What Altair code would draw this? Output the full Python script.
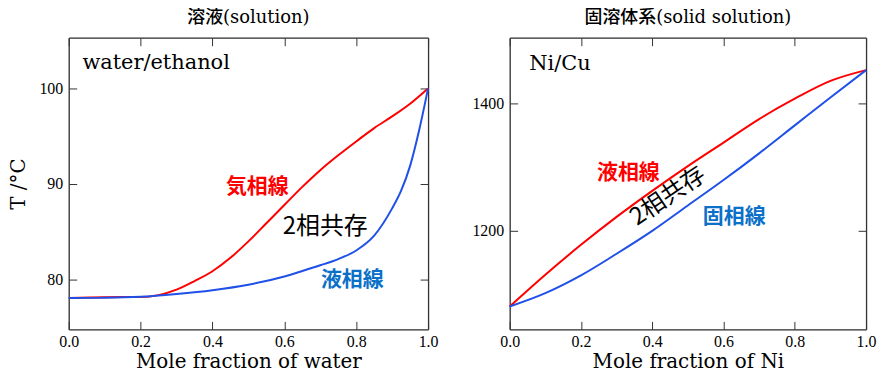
import altair as alt
import pandas as pd

# ---------------- data : left panel (water / ethanol) ----------------
we_vap_x = [0.0, 0.1, 0.2, 0.25, 0.3, 0.35, 0.4, 0.45, 0.5, 0.55, 0.6, 0.65,
            0.7, 0.75, 0.8, 0.85, 0.9, 0.95, 1.0]
we_vap_T = [78.08, 78.17, 78.18, 78.38, 78.95, 79.85, 80.88, 82.28, 84.0, 85.9,
            87.8, 89.7, 91.45, 93.0, 94.45, 95.85, 97.07, 98.4, 100.0]
we_liq_x = [0.0, 0.1, 0.2, 0.3, 0.4, 0.5, 0.6, 0.65, 0.7, 0.75, 0.8, 0.85,
            0.9, 0.925, 0.95, 0.975, 1.0]
we_liq_T = [78.08, 78.1, 78.2, 78.5, 78.9, 79.47, 80.33, 80.9, 81.5, 82.15,
            83.05, 84.6, 87.45, 89.3, 91.9, 95.6, 100.0]

# ---------------- data : right panel (Ni / Cu) ----------------
ni_x = [0.0, 0.1, 0.2, 0.3, 0.4, 0.5, 0.6, 0.7, 0.8, 0.9, 1.0]
ni_liq_T = [1081, 1131, 1178, 1222, 1263, 1302, 1339, 1376, 1408, 1436, 1453]
ni_sol_T = [1081, 1102, 1130, 1164, 1200, 1240, 1280, 1322, 1366, 1410, 1453]

# ---------------- labels ----------------
x_ticks = [0.0, 0.2, 0.4, 0.6, 0.8, 1.0]
left_y_ticks = [80, 90, 100]
right_y_ticks = [1200, 1400]
left_title = "溶液(solution)"
right_title = "固溶体系(solid solution)"
left_xtitle = "Mole fraction of water"
right_xtitle = "Mole fraction of Ni"
left_ytitle = "T /°C"

left_system = {"label": ["water/ethanol"], "x": [0.038], "T": [102.06]}
left_vap_lbl = {"label": ["気相線"], "x": [0.5246], "T": [89.66]}
left_two_lbl = {"label": ["2相共存"], "x": [0.714], "T": [85.45]}
left_liq_lbl = {"label": ["液相線"], "x": [0.789], "T": [79.98]}

right_system = {"label": ["Ni/Cu"], "x": [0.055], "T": [1453.3]}
right_liq_lbl = {"label": ["液相線"], "x": [0.333], "T": [1291]}
right_sol_lbl = {"label": ["固相線"], "x": [0.63], "T": [1222]}
right_two_lbl = {"label": ["2相共存"], "x": [0.445], "T": [1254]}

RED = "#ff0000"
BLUE_LINE = "#1f50e8"
BLUE_TEXT = "#0a70c8"
SERIF = "DejaVu Serif"
TICKF = "Liberation Serif"
CJK = "Noto Sans CJK JP"
FRAME = "#333333"
INWARD = alt.ExprRef(expr="-8")


def lines_df(x1, t1, x2, t2, n1, n2):
    a = pd.DataFrame({"x": x1, "T": t1, "series": n1})
    b = pd.DataFrame({"x": x2, "T": t2, "series": n2})
    return pd.concat([a, b], ignore_index=True)


def panel(df, names, ydom, yticks, ytitle, xtitle, title, title_offset,
          texts, w, h):
    xs = alt.Scale(domain=[0, 1], nice=False, zero=False)
    ys = alt.Scale(domain=ydom, nice=False, zero=False)
    x_axis = alt.Axis(orient="bottom", values=x_ticks, format=".1f",
                      title=xtitle, titleFont=SERIF, titleFontSize=20,
                      titleFontWeight="normal", titleColor="black",
                      titlePadding=2, labelFont=TICKF, labelFontSize=16,
                      labelColor="black", labelPadding=12, tickSize=INWARD,
                      tickColor=FRAME, domainColor=FRAME, domainWidth=1.3,
                      grid=False, labelFlush=False)
    y_kw = dict(orient="left", values=yticks, format="d", labelFont=TICKF,
                labelFontSize=16, labelColor="black", labelPadding=14,
                tickSize=INWARD, tickColor=FRAME, domainColor=FRAME,
                domainWidth=1.3, grid=False)
    if ytitle:
        y_axis = alt.Axis(title=ytitle, titleFont=SERIF, titleFontSize=20,
                          titleFontWeight="normal", titleColor="black",
                          titlePadding=10, **y_kw)
    else:
        y_axis = alt.Axis(title=None, **y_kw)
    lines = alt.Chart(df).mark_line(strokeWidth=2, interpolate="monotone").encode(
        x=alt.X("x:Q", scale=xs, axis=x_axis),
        y=alt.Y("T:Q", scale=ys, axis=y_axis),
        color=alt.Color("series:N", scale=alt.Scale(domain=names,
                        range=[RED, BLUE_LINE]), legend=None),
    )
    other = alt.Chart(df).mark_line(opacity=0).encode(
        x=alt.X("x:Q", scale=xs, axis=alt.Axis(orient="top", values=x_ticks,
                labels=False, title=None, tickSize=INWARD, tickColor=FRAME,
                domainColor=FRAME, domainWidth=1.3, grid=False)),
        y=alt.Y("T:Q", scale=ys, axis=alt.Axis(orient="right", values=yticks,
                labels=False, title=None, tickSize=INWARD, tickColor=FRAME,
                domainColor=FRAME, domainWidth=1.3, grid=False)),
        detail="series:N",
    )
    layers = [lines, other]
    for data, style in texts:
        layers.append(
            alt.Chart(pd.DataFrame(data)).mark_text(**style).encode(
                x=alt.X("x:Q", scale=xs, axis=None),
                y=alt.Y("T:Q", scale=ys, axis=None),
                text="label:N")
        )
    return alt.layer(*layers).properties(
        width=w, height=h,
        title=alt.Title(title, font=f"{SERIF}, {CJK}", fontSize=18,
                        fontWeight=500, color="black", offset=title_offset),
    )


sys_style = dict(font=SERIF, fontSize=21, align="left", baseline="alphabetic",
                 color="black")
red_style = dict(font=CJK, fontSize=21, fontWeight="bold", align="center",
                 baseline="middle", color=RED)
blue_style = dict(font=CJK, fontSize=21, fontWeight="bold", align="center",
                  baseline="middle", color=BLUE_TEXT)
two_style = dict(font=CJK, fontSize=24, align="center", baseline="middle",
                 color="black")
two_rot_style = dict(font=CJK, fontSize=24, align="center", baseline="middle",
                     color="black", angle=326)

left = panel(
    lines_df(we_vap_x, we_vap_T, we_liq_x, we_liq_T, "vapour", "liquid"),
    ["vapour", "liquid"], [74.8, 105.3], left_y_ticks, left_ytitle,
    left_xtitle, left_title, 10,
    [(left_system, sys_style), (left_vap_lbl, red_style),
     (left_two_lbl, two_style), (left_liq_lbl, blue_style)],
    361, 293,
)
right = panel(
    lines_df(ni_x, ni_liq_T, ni_x, ni_sol_T, "liquidus", "solidus"),
    ["liquidus", "solidus"], [1045, 1504], right_y_ticks, None,
    right_xtitle, right_title, 10,
    [(right_system, sys_style), (right_liq_lbl, red_style),
     (right_sol_lbl, blue_style), (right_two_lbl, two_rot_style)],
    358, 293,
)

chart = alt.hconcat(left, right, spacing=32).properties(
    padding={"left": 0, "top": 0, "right": 0, "bottom": 0}
).configure_view(stroke=None).configure(background="white")

chart.save("out.html", embed_options={"renderer": "svg", "actions": False})
